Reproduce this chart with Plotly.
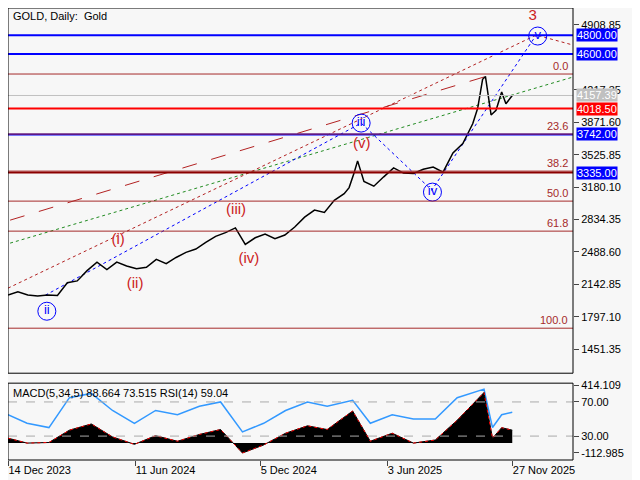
import plotly.graph_objects as go

dates = ["2023-12-14", "2023-12-28", "2024-01-11", "2024-01-25", "2024-02-08", "2024-02-22",
         "2024-03-07", "2024-03-21", "2024-04-04", "2024-04-18", "2024-05-02", "2024-05-16",
         "2024-05-30", "2024-06-13", "2024-06-27", "2024-07-11", "2024-07-25", "2024-08-08",
         "2024-08-22", "2024-09-05", "2024-09-19", "2024-10-03", "2024-10-17", "2024-10-31",
         "2024-11-14", "2024-11-28", "2024-12-12", "2024-12-26", "2025-01-09", "2025-01-23",
         "2025-02-06", "2025-02-20", "2025-03-06", "2025-03-20", "2025-04-03", "2025-04-10",
         "2025-04-17", "2025-04-22", "2025-05-01", "2025-05-15", "2025-05-29", "2025-06-12",
         "2025-06-26", "2025-07-10", "2025-07-24", "2025-08-07", "2025-08-21", "2025-09-04",
         "2025-09-18", "2025-10-02", "2025-10-09", "2025-10-16", "2025-10-20", "2025-10-28",
         "2025-11-04", "2025-11-12", "2025-11-18", "2025-11-27"]
close = [2030, 2065, 2030, 2020, 2030, 2025, 2160, 2180, 2290, 2380, 2300, 2380,
         2340, 2310, 2325, 2410, 2365, 2430, 2485, 2520, 2590, 2655, 2695, 2745,
         2570, 2640, 2680, 2630, 2670, 2755, 2860, 2935, 2910, 3040, 3110, 3175,
         3330, 3460, 3240, 3190, 3290, 3385, 3330, 3325, 3370, 3395, 3340, 3545,
         3645, 3855, 4020, 4330, 4360, 3950, 4000, 4195, 4070, 4157]

ind_dates = ["2023-12-14", "2024-01-10", "2024-02-10", "2024-03-10", "2024-04-10", "2024-05-10",
             "2024-06-10", "2024-07-10", "2024-08-10", "2024-09-10", "2024-10-10", "2024-11-10",
             "2024-12-10", "2025-01-10", "2025-02-10", "2025-03-10", "2025-04-15", "2025-05-10",
             "2025-06-10", "2025-07-10", "2025-08-10", "2025-09-10", "2025-10-18", "2025-10-30",
             "2025-11-12", "2025-11-27"]
rsi = [55, 45, 40, 75, 80, 60, 45, 60, 55, 65, 70, 35, 45, 60, 70, 65, 72, 45, 55, 50, 50, 75, 85, 40, 55, 58]
macd = [40, 0, 5, 105, 155, 50, -10, 60, 15, 70, 110, -80, -15, 80, 140, 110, 260, 15, 80, 0, 25, 185, 410, 40, 125, 105]

levels = [4800, 4600, 4018.5, 3742, 3335]
level_colors = ["#0000ff", "#0000ff", "#ff0000", "#0000ff", "#8b0000"]
fib_names = ["0.0", "23.6", "38.2", "50.0", "61.8", "100.0"]
fib_prices = [4386, 3746, 3351, 3031, 2711, 1676]
last_price = 4157.39
price_ticks = [4908.85, 4217.35, 3871.60, 3525.85, 3180.10, 2834.35, 2488.60, 2142.85, 1797.10, 1451.35]

blue_waves = ["ii", "iii", "iv", "v"]
blue_x = ["2024-02-07", "2025-04-27", "2025-08-06", "2026-01-02"]
blue_y = [1857, 3863, 3127, 4791]
red_waves = ["(i)", "(ii)", "(iii)", "(iv)", "(v)", "3"]
red_x = ["2024-05-18", "2024-06-11", "2024-11-01", "2024-11-19", "2025-04-28", "2025-12-26"]
red_y = [2615, 2145, 2935, 2412, 3639, 5005]

X0, X1 = "2023-12-14", "2026-02-21"
fig = go.Figure()

for p, c in zip(levels, level_colors):
    fig.add_shape(type="line", xref="x", yref="y", x0=X0, x1=X1, y0=p, y1=p,
                  line=dict(color=c, width=2))
for p in fib_prices:
    fig.add_shape(type="line", xref="x", yref="y", x0=X0, x1=X1, y0=p, y1=p,
                  line=dict(color="#a52a2a", width=1))
fig.add_shape(type="line", xref="x", yref="y", x0=X0, x1=X1, y0=last_price, y1=last_price,
              line=dict(color="#c0c0c0", width=1))

# trend lines
fig.add_trace(go.Scatter(x=["2023-12-17", "2025-10-27"], y=[2828, 4375], mode="lines",
                         line=dict(color="#b22222", width=1, dash="longdash"), yaxis="y"))
fig.add_trace(go.Scatter(x=["2023-12-17", "2026-02-21"], y=[2583, 4354], mode="lines",
                         line=dict(color="#228b22", width=1, dash="dot"), yaxis="y"))
fig.add_trace(go.Scatter(x=["2024-02-05", "2025-04-27", "2025-08-05", "2025-12-31"],
                         y=[2028, 3863, 3148, 4802], mode="lines",
                         line=dict(color="#0000ff", width=1, dash="dot"), yaxis="y"))
fig.add_trace(go.Scatter(x=["2023-12-14", "2025-12-31", "2026-02-21"], y=[2103, 4802, 4695],
                         mode="lines", line=dict(color="#b22222", width=1, dash="dot"), yaxis="y"))

fig.add_trace(go.Scatter(x=dates, y=close, mode="lines", line=dict(color="black", width=1.5), yaxis="y"))

# wave labels
fig.add_trace(go.Scatter(x=blue_x, y=blue_y, mode="markers+text", text=blue_waves, yaxis="y",
                         textposition="middle center", textfont=dict(color="#0000ff", size=13),
                         marker=dict(symbol="circle-open", size=18, color="#0000ff", line=dict(width=1))))
fig.add_trace(go.Scatter(x=red_x, y=red_y, mode="text", text=red_waves, yaxis="y",
                         textfont=dict(color="#cc2222", size=15)))

# indicators
fig.add_trace(go.Scatter(x=ind_dates, y=macd, mode="lines", fill="tozeroy", fillcolor="black",
                         line=dict(color="black", width=1), yaxis="y3"))
fig.add_trace(go.Scatter(x=ind_dates, y=macd, mode="lines", line=dict(color="red", width=1, dash="dot"),
                         yaxis="y3"))
fig.add_trace(go.Scatter(x=ind_dates, y=rsi, mode="lines", line=dict(color="#3399ff", width=1.5), yaxis="y2"))
for v in [70, 30]:
    fig.add_shape(type="line", xref="x", yref="y2", x0=X0, x1=X1, y0=v, y1=v,
                  line=dict(color="#aaaaaa", width=1, dash="dash"))

# panel borders
fig.add_shape(type="rect", xref="paper", yref="paper", x0=0, x1=1, y0=0.192, y1=1,
              line=dict(color="black", width=1))
fig.add_shape(type="rect", xref="paper", yref="paper", x0=0, x1=1, y0=0, y1=0.17,
              line=dict(color="black", width=1))

ann = []
for t, p in zip(fib_names, fib_prices):
    ann.append(dict(x=0.995, y=p, xref="paper", yref="y", text=t, showarrow=False,
                    xanchor="right", yanchor="bottom", font=dict(color="#a52a2a", size=11)))
for p, c in zip(levels, level_colors):
    ann.append(dict(x=1.005, y=p, xref="paper", yref="y", text=f"{p:.2f}", showarrow=False,
                    xanchor="left", bgcolor="#ff0000" if c == "#ff0000" else "#0000ff",
                    font=dict(color="white", size=11), borderpad=0))
ann.append(dict(x=1.005, y=last_price, xref="paper", yref="y", text=f"{last_price:.2f}",
                showarrow=False, xanchor="left", bgcolor="#c0c0c0",
                font=dict(color="white", size=11), borderpad=0))
ann.append(dict(x=0.005, y=1, xref="paper", yref="paper", text="GOLD, Daily:  Gold",
                showarrow=False, xanchor="left", yanchor="top", font=dict(size=11)))
ann.append(dict(x=0.005, y=0.165, xref="paper", yref="paper",
                text="MACD(5,34,5) 88.664 73.515 RSI(14) 59.04",
                showarrow=False, xanchor="left", yanchor="top", font=dict(size=11)))

fig.update_layout(
    width=637, height=477, margin=dict(l=0, r=72, t=0, b=25, autoexpand=False),
    paper_bgcolor="#f7f7f7", plot_bgcolor="#f7f7f7", showlegend=False,
    font=dict(family="Liberation Sans", size=11, color="black"),
    annotations=ann,
    xaxis=dict(range=[X0, X1], showgrid=False, anchor="y2", automargin=False,
               tickvals=["2023-12-14", "2024-06-11", "2024-12-05", "2025-06-03", "2025-11-27"],
               ticktext=["14 Dec 2023", "11 Jun 2024", "5 Dec 2024", "3 Jun 2025", "27 Nov 2025"],
               ticks="outside", ticklabelposition="outside right", showline=False),
    yaxis=dict(domain=[0.192, 1], range=[1196, 5090], side="right", tickvals=price_ticks,
               ticktext=[f"{v:.2f}" for v in price_ticks], showgrid=False, ticks="outside",
               showline=False, zeroline=False, automargin=False, anchor="x"),
    yaxis2=dict(domain=[0, 0.17], range=[2, 92], side="right", tickvals=[89.4, 70, 30, 10.6],
                ticktext=["414.109", "70.00", "30.00", "-112.985"], showgrid=False, ticks="outside",
                showline=False, zeroline=False, anchor="x", automargin=False),
    yaxis3=dict(overlaying="y2", range=[-137, 486], visible=False),
)
fig.write_html("out.html")
